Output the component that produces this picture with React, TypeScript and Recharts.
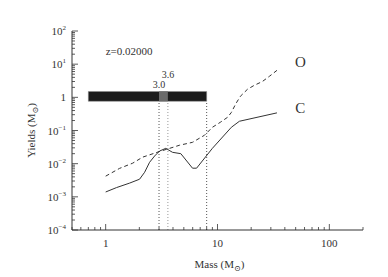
import React from 'react';
import {
  LineChart,
  Line,
  XAxis,
  YAxis,
  ReferenceArea,
  ReferenceLine,
  ReferenceDot,
} from 'recharts';

// Oxygen yield (dashed) and carbon yield (solid), z = 0.02
const massO = [1.0, 1.33, 1.74, 2.14, 3.0, 4.58, 5.98, 7.65, 9.0, 10.6, 12.3, 13.3, 14.5, 16.0, 18.5, 21.3, 25.2, 29.1, 34];
const yieldO = [0.0042, 0.0072, 0.0103, 0.0157, 0.023, 0.036, 0.044, 0.072, 0.125, 0.177, 0.25, 0.35, 0.62, 1.07, 1.74, 2.3, 3.0, 4.3, 6.5];
const massC = [1.0, 1.25, 1.64, 2.01, 2.23, 2.47, 2.74, 3.03, 3.45, 3.96, 4.7, 5.98, 6.5, 9.0, 13.3, 15.7, 34];
const yieldC = [0.0014, 0.0019, 0.0026, 0.0034, 0.0055, 0.011, 0.017, 0.024, 0.029, 0.022, 0.02, 0.0073, 0.0073, 0.029, 0.125, 0.19, 0.34];

// mass ranges shown by the bar
const barMass = [0.7, 8];
const barYield = [0.76, 1.5];
const grayMass = [3.0, 3.6];
const dividers = [3.0, 3.6, 8];

// annotations: [mass, yield, text, font size]
const notes: [number, number, string, number][] = [
  [1.0, 25, 'z=0.02000', 11],
  [3.0, 2.46, '3.0', 10],
  [3.6, 4.9, '3.6', 10],
  [55, 12, 'O', 15],
  [55, 0.5, 'C', 15],
];

const xDomain = [0.5, 200];
const yDomain = [1e-4, 1e2];
const xTicks = [0.5, 0.6, 0.7, 0.8, 0.9, 1, 2, 3, 4, 5, 6, 7, 8, 9, 10, 20, 30, 40, 50, 60, 70, 80, 90, 100, 200];
const xTickLabels: Record<string, string> = { '1': '1', '10': '10', '100': '100' };
const yDecades = [-4, -3, -2, -1, 0, 1, 2];
const yTicks: number[] = [];
yDecades.forEach((d) => {
  for (let k = 1; k <= 9; k++) {
    const v = k * Math.pow(10, d);
    if (v <= 100) yTicks.push(v);
  }
});

const dataO = massO.map((m, i) => ({ m, y: yieldO[i] }));
const dataC = massC.map((m, i) => ({ m, y: yieldC[i] }));

const INK = '#333';
const FONT = '"Liberation Serif", "DejaVu Serif", serif';

const isDecade = (v: number) => {
  const l = Math.log10(v);
  return Math.abs(l - Math.round(l)) < 1e-6;
};

const XTick = (props: any) => {
  const { x, y, payload, side } = props;
  const v = payload.value;
  const len = isDecade(v) ? 6 : 3;
  const dir = side === 'top' ? 1 : -1;
  const label = side === 'bottom' ? xTickLabels[String(v)] : undefined;
  return (
    <g>
      <line x1={x} y1={y} x2={x} y2={y + dir * len} stroke={INK} strokeWidth={0.8} />
      {label && (
        <text x={x} y={y + 17} textAnchor="middle" fontSize={11} fontFamily={FONT} fill={INK}>
          {label}
        </text>
      )}
    </g>
  );
};

const YTick = (props: any) => {
  const { x, y, payload, side } = props;
  const v = payload.value;
  const major = isDecade(v);
  const len = major ? 6 : 3;
  const dir = side === 'right' ? -1 : 1;
  const exp = Math.round(Math.log10(v));
  return (
    <g>
      <line x1={x} y1={y} x2={x + dir * len} y2={y} stroke={INK} strokeWidth={0.8} />
      {side === 'left' && major && (
        <text x={x - 6} y={y + 4} textAnchor="end" fontSize={11} fontFamily={FONT} fill={INK}>
          {exp === 0 ? (
            '1'
          ) : (
            <>
              10
              <tspan fontSize={7} dy={-5}>
                {exp < 0 ? '\u2212' + -exp : exp}
              </tspan>
            </>
          )}
        </text>
      )}
    </g>
  );
};

const XTitle = (props: any) => {
  const { x, y, width } = props.viewBox;
  return (
    <text x={x + width / 2 + 2} y={y + 38} textAnchor="middle" fontSize={11} fontFamily={FONT} fill={INK}>
      Mass (M
      <tspan fontSize={8} dy={3}>
        {'\u2299'}
      </tspan>
      <tspan dy={-3}>)</tspan>
    </text>
  );
};

const YTitle = (props: any) => {
  const { y, height } = props.viewBox;
  const cx = 35;
  const cy = y + height / 2;
  return (
    <text
      x={cx}
      y={cy}
      transform={`rotate(-90 ${cx} ${cy})`}
      textAnchor="middle"
      fontSize={11}
      fontFamily={FONT}
      fill={INK}
    >
      Yields (M
      <tspan fontSize={8} dy={3}>
        {'\u2299'}
      </tspan>
      <tspan dy={-3}>)</tspan>
    </text>
  );
};

export default function App() {
  return (
    <div style={{ position: 'absolute', left: 0, top: 0, background: '#fff' }}>
      <LineChart width={388} height={277} margin={{ top: 31, right: 25, bottom: 0, left: 0 }}>
        <XAxis
          dataKey="m"
          type="number"
          scale="log"
          domain={xDomain}
          allowDataOverflow
          ticks={xTicks}
          interval={0}
          tickSize={0}
          tickMargin={0}
          height={47}
          stroke={INK}
          tick={<XTick side="bottom" />}
          label={XTitle}
        />
        <XAxis
          xAxisId="top"
          orientation="top"
          dataKey="m"
          type="number"
          scale="log"
          domain={xDomain}
          allowDataOverflow
          ticks={xTicks}
          interval={0}
          tickSize={0}
          tickMargin={0}
          height={0}
          stroke={INK}
          tick={<XTick side="top" />}
        />
        <YAxis
          dataKey="y"
          type="number"
          scale="log"
          domain={yDomain}
          allowDataOverflow
          ticks={yTicks}
          interval={0}
          tickSize={0}
          tickMargin={0}
          width={72}
          stroke={INK}
          tick={<YTick side="left" />}
          label={YTitle}
        />
        <YAxis
          yAxisId="right"
          orientation="right"
          dataKey="y"
          type="number"
          scale="log"
          domain={yDomain}
          allowDataOverflow
          ticks={yTicks}
          interval={0}
          tickSize={0}
          tickMargin={0}
          width={0}
          stroke={INK}
          tick={<YTick side="right" />}
        />
        {dividers.map((m, i) => (
          <ReferenceLine
            key={m}
            segment={[
              { x: m, y: yDomain[0] },
              { x: m, y: barYield[0] },
            ]}
            stroke={i === 1 ? '#999' : '#555'}
            strokeDasharray="1 2"
          />
        ))}
        <ReferenceArea
          x1={barMass[0]}
          x2={barMass[1]}
          y1={barYield[0]}
          y2={barYield[1]}
          fill="#1c1c1c"
          fillOpacity={1}
          stroke="#888"
          strokeWidth={0.5}
        />
        <ReferenceArea
          x1={grayMass[0]}
          x2={grayMass[1]}
          y1={barYield[0]}
          y2={barYield[1]}
          fill="#6a6a6a"
          fillOpacity={1}
        />
        <Line
          data={dataO}
          dataKey="y"
          type="linear"
          stroke={INK}
          strokeWidth={1}
          strokeDasharray="4 3"
          dot={false}
          isAnimationActive={false}
        />
        <Line
          data={dataC}
          dataKey="y"
          type="linear"
          stroke={INK}
          strokeWidth={1}
          dot={false}
          isAnimationActive={false}
        />
        {notes.map(([m, v, t, fs]) => (
          <ReferenceDot
            key={t}
            x={m}
            y={v}
            r={1}
            shape={(p: any) => (
              <text
                x={p.cx}
                y={p.cy}
                dy="0.35em"
                textAnchor={t.startsWith('z') ? 'start' : 'middle'}
                fontSize={fs}
                fontFamily={FONT}
                fill={INK}
              >
                {t}
              </text>
            )}
          />
        ))}
      </LineChart>
    </div>
  );
}
